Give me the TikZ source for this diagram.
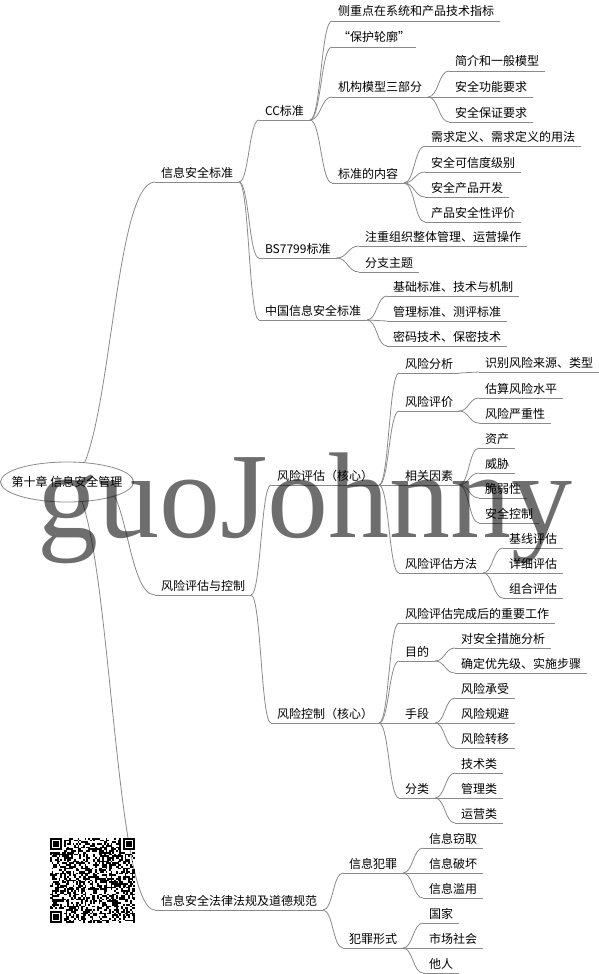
\documentclass[tikz,border=0pt]{standalone}
\usepackage{fontspec}
\setmainfont{Noto Sans CJK SC}
\newfontfamily\wmfont{Liberation Serif}
\usetikzlibrary{calc,shapes.geometric}
\pgfdeclarelayer{background}
\pgfsetlayers{background,main}
\definecolor{linkgray}{HTML}{8A8A8A}

\begin{document}
\begin{tikzpicture}[x=1pt, y=-1pt,
    font=\fontsize{12}{14}\selectfont,
    topic/.style={
        anchor=south west,
        inner xsep=6pt,
        inner ysep=3pt,
        outer sep=0pt,
        text height=9pt,
        text depth=2pt,
        append after command={(\tikzlastnode.south west) edge[linkgray, line width=0.8pt] (\tikzlastnode.south east)}
    },
    root_topic/.style={
        ellipse,
        draw=linkgray,
        line width=0.8pt,
        fill=white,
        inner sep=0pt,
        minimum width=133pt,
        minimum height=40pt
    },
    link/.style={
        linkgray,
        line width=0.8pt,
        to path={let \p1=(\tikztostart), \p2=(\tikztotarget), \p3=($(\p1)!0.5!(\p2)$) in
            .. controls (\x3,\y1) and (\x3,\y2) .. (\tikztotarget)}
    }]
    \useasboundingbox (0,0) rectangle (599,974);

    \node (root) [root_topic] at (67,482) {\makebox[0pt]{第十章 信息安全管理}};
    \coordinate (root_mid) at ([xshift=33pt]root.center);

    % first level
    \node (sec_std) [topic] at (155,182) {信息安全标准};
    \node (risk) [topic] at (155,595) {风险评估与控制};
    \node (law) [topic] at (155,910) {信息安全法律法规及道德规范};

    % standards
    \node (cc_std) [topic] at (259,120) {CC标准};
    \node (bs7799) [topic] at (259,258) {BS7799标准};
    \node (china_std) [topic] at (259,320) {中国信息安全标准};

    \node (cc_focus) [topic] at (332,21) {侧重点在系统和产品技术指标};
    \node (cc_pp) [topic] at (332,47) {“保护轮廓”};
    \node (cc_model) [topic] at (332,97) {机构模型三部分};
    \node (cc_content) [topic] at (332,183) {标准的内容};

    \node (model_intro) [topic] at (449,71) {简介和一般模型};
    \node (model_func) [topic] at (449,97) {安全功能要求};
    \node (model_assur) [topic] at (449,122) {安全保证要求};

    \node (content_def) [topic] at (425,146) {需求定义、需求定义的用法};
    \node (content_level) [topic] at (425,172) {安全可信度级别};
    \node (content_dev) [topic] at (425,197) {安全产品开发};
    \node (content_eval) [topic] at (425,222) {产品安全性评价};

    \node (bs_focus) [topic] at (359,246) {注重组织整体管理、运营操作};
    \node (bs_topic) [topic] at (359,272) {分支主题};

    \node (china_base) [topic] at (387,296) {基础标准、技术与机制};
    \node (china_mgmt) [topic] at (387,321) {管理标准、测评标准};
    \node (china_crypto) [topic] at (387,346) {密码技术、保密技术};

    % risk assessment
    \node (assess) [topic] at (271,485) {风险评估（核心）};
    \node (control) [topic] at (271,723) {风险控制（核心）};

    \node (analysis) [topic] at (399,373) {风险分析};
    \node (evaluation) [topic] at (399,411) {风险评价};
    \node (factors) [topic] at (399,485) {相关因素};
    \node (methods) [topic] at (399,573) {风险评估方法};

    \node (analysis_src) [topic] at (479,372) {识别风险来源、类型};
    \node (eval_level) [topic] at (479,398) {估算风险水平};
    \node (eval_severity) [topic] at (479,423) {风险严重性};
    \node (factor_asset) [topic] at (479,448) {资产};
    \node (factor_threat) [topic] at (479,473) {威胁};
    \node (factor_vuln) [topic] at (479,498) {脆弱性};
    \node (factor_ctrl) [topic] at (479,523) {安全控制};
    \node (method_base) [topic] at (503,548) {基线评估};
    \node (method_detail) [topic] at (503,573) {详细评估};
    \node (method_combo) [topic] at (503,598) {组合评估};

    % risk control
    \node (ctrl_work) [topic] at (399,623) {风险评估完成后的重要工作};
    \node (ctrl_goal) [topic] at (399,661) {目的};
    \node (ctrl_means) [topic] at (399,723) {手段};
    \node (ctrl_class) [topic] at (399,798) {分类};

    \node (goal_analysis) [topic] at (455,648) {对安全措施分析};
    \node (goal_priority) [topic] at (455,673) {确定优先级、实施步骤};
    \node (means_accept) [topic] at (455,698) {风险承受};
    \node (means_avoid) [topic] at (455,723) {风险规避};
    \node (means_transfer) [topic] at (455,748) {风险转移};
    \node (class_tech) [topic] at (455,773) {技术类};
    \node (class_mgmt) [topic] at (455,798) {管理类};
    \node (class_ops) [topic] at (455,823) {运营类};

    % law and ethics
    \node (crime) [topic] at (343,873) {信息犯罪};
    \node (crime_form) [topic] at (343,948) {犯罪形式};

    \node (crime_steal) [topic] at (423,848) {信息窃取};
    \node (crime_damage) [topic] at (423,873) {信息破坏};
    \node (crime_abuse) [topic] at (423,898) {信息滥用};
    \node (form_state) [topic] at (423,923) {国家};
    \node (form_market) [topic] at (423,948) {市场社会};
    \node (form_person) [topic] at (423,973) {他人};

    \begin{pgfonlayer}{background}
    \draw[link] (root.center) to (sec_std.south west);
    \draw[link] (root_mid) to (risk.south west);
    \draw[link] (root.center) to (law.south west);

    \draw[link] (sec_std.south east) to (cc_std.south west);
    \draw[link] (sec_std.south east) to (bs7799.south west);
    \draw[link] (sec_std.south east) to (china_std.south west);

    \draw[link] (cc_std.south east) to (cc_focus.south west);
    \draw[link] (cc_std.south east) to (cc_pp.south west);
    \draw[link] (cc_std.south east) to (cc_model.south west);
    \draw[link] (cc_std.south east) to (cc_content.south west);
    \draw[link] (cc_model.south east) to (model_intro.south west);
    \draw[link] (cc_model.south east) to (model_func.south west);
    \draw[link] (cc_model.south east) to (model_assur.south west);
    \draw[link] (cc_content.south east) to (content_def.south west);
    \draw[link] (cc_content.south east) to (content_level.south west);
    \draw[link] (cc_content.south east) to (content_dev.south west);
    \draw[link] (cc_content.south east) to (content_eval.south west);
    \draw[link] (bs7799.south east) to (bs_focus.south west);
    \draw[link] (bs7799.south east) to (bs_topic.south west);
    \draw[link] (china_std.south east) to (china_base.south west);
    \draw[link] (china_std.south east) to (china_mgmt.south west);
    \draw[link] (china_std.south east) to (china_crypto.south west);

    \draw[link] (risk.south east) to (assess.south west);
    \draw[link] (risk.south east) to (control.south west);

    \draw[link] (assess.south east) to (analysis.south west);
    \draw[link] (assess.south east) to (evaluation.south west);
    \draw[link] (assess.south east) to (factors.south west);
    \draw[link] (assess.south east) to (methods.south west);
    \draw[link] (analysis.south east) to (analysis_src.south west);
    \draw[link] (evaluation.south east) to (eval_level.south west);
    \draw[link] (evaluation.south east) to (eval_severity.south west);
    \draw[link] (factors.south east) to (factor_asset.south west);
    \draw[link] (factors.south east) to (factor_threat.south west);
    \draw[link] (factors.south east) to (factor_vuln.south west);
    \draw[link] (factors.south east) to (factor_ctrl.south west);
    \draw[link] (methods.south east) to (method_base.south west);
    \draw[link] (methods.south east) to (method_detail.south west);
    \draw[link] (methods.south east) to (method_combo.south west);

    \draw[link] (control.south east) to (ctrl_work.south west);
    \draw[link] (control.south east) to (ctrl_goal.south west);
    \draw[link] (control.south east) to (ctrl_means.south west);
    \draw[link] (control.south east) to (ctrl_class.south west);
    \draw[link] (ctrl_goal.south east) to (goal_analysis.south west);
    \draw[link] (ctrl_goal.south east) to (goal_priority.south west);
    \draw[link] (ctrl_means.south east) to (means_accept.south west);
    \draw[link] (ctrl_means.south east) to (means_avoid.south west);
    \draw[link] (ctrl_means.south east) to (means_transfer.south west);
    \draw[link] (ctrl_class.south east) to (class_tech.south west);
    \draw[link] (ctrl_class.south east) to (class_mgmt.south west);
    \draw[link] (ctrl_class.south east) to (class_ops.south west);

    \draw[link] (law.south east) to (crime.south west);
    \draw[link] (law.south east) to (crime_form.south west);
    \draw[link] (crime.south east) to (crime_steal.south west);
    \draw[link] (crime.south east) to (crime_damage.south west);
    \draw[link] (crime.south east) to (crime_abuse.south west);
    \draw[link] (crime_form.south east) to (form_state.south west);
    \draw[link] (crime_form.south east) to (form_market.south west);
    \draw[link] (crime_form.south east) to (form_person.south west);
    \end{pgfonlayer}

    % qr code
    \begin{scope}[shift={(50,838)}, x=1.735pt, y=-1.735pt]
        \pgfmathsetseed{2718}
        \foreach \i in {0,...,48}
            \foreach \j in {0,...,48} {
                \pgfmathtruncatemacro\qrskip{((\i<8)&&(\j<8))||((\i>40)&&(\j<8))||((\i<8)&&(\j>40))}
                \pgfmathrandominteger{\qrbit}{0}{1}
                \ifnum\qrskip=0 \ifnum\qrbit=1 \fill (\i,\j) rectangle +(1,1); \fi\fi
            }
        \foreach \fx/\fy in {0/0, 42/0, 0/42} {
            \fill (\fx,\fy) rectangle +(7,7);
            \fill[white] (\fx+1,\fy+1) rectangle +(5,5);
            \fill (\fx+2,\fy+2) rectangle +(3,3);
        }
    \end{scope}

    % watermark
    \node (watermark) [anchor=base west, inner sep=0pt, text=black, text opacity=0.57,
        font=\wmfont\fontsize{122}{122}\selectfont] at (37,537) {guoJohnny};
\end{tikzpicture}
\end{document}
